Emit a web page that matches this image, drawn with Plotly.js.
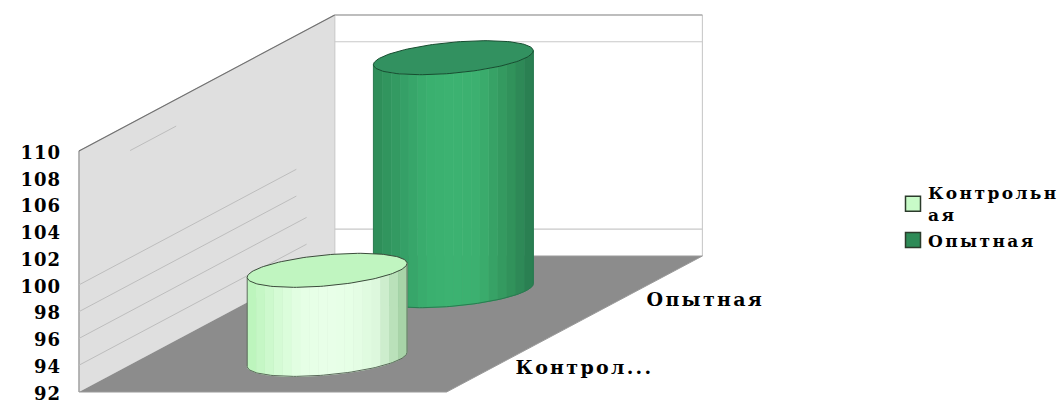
<!DOCTYPE html>
<html><head><meta charset="utf-8">
<script src="https://cdn.plot.ly/plotly-3.0.1.min.js"></script>
<style>
html,body{margin:0;padding:0;background:#fff;overflow:hidden;height:400px}
#c{width:1064px;height:420px}
.ytick{transform:translateY(1.5px)}
.ytick text{letter-spacing:1px}
.textpoint text{letter-spacing:2.3px}
.legendtext{letter-spacing:2.4px}
.legendsymbols{transform:translateX(5px)}
</style>
</head><body><div id="c"></div>
<script>
// --- chart data ---
const categories = ['Контрол...', 'Опытная'];
const seriesNames = ['Контрольн<br>ая', 'Опытная'];
const values = [98.65, 109.4];
const tickValues = [92, 94, 96, 98, 100, 102, 104, 106, 108, 110];
// --- colours ---
const capColors = ['#c0f5c0', '#329160'];
const swatchColors = ['#c8fbc8', '#2e8b57'];
const bodyStops = [
  ['#bdf5bd', '#d4fbd4', '#e6ffe6', '#e8ffe8', '#e6ffe6', '#dcf8dc', '#a8d4a8'],
  ['#2f8f5a', '#359f66', '#3ab06f', '#3cb371', '#3cb070', '#34995f', '#2a8052']
];
const FONT = 'DejaVu Serif';

// --- projection: floor position (across, depth) plus value -> plot coordinates ---
const PX_PER_UNIT = 13.39, BASE = 92, TOP = 110;
const FRONT_X = 79, FLOOR_W = 368, DEPTH_X = 256, DEPTH_Y = 136;
const px = (u, d) => FRONT_X + FLOOR_W * u + DEPTH_X * d;
const py = (v, d) => v + d * DEPTH_Y / PX_PER_UNIT;
const depths = [0.24, 0.745];
const across = [0.508, 0.5];
const RX = 80, TILT = 7, RY = 15.5;

const traces = [];
const poly = (xs, ys, fill, line, width) => traces.push({
  x: xs, y: ys, mode: 'lines', fill: 'toself', fillcolor: fill,
  line: {color: line || fill, width: width === undefined ? 1 : width},
  showlegend: false, hoverinfo: 'skip'
});
const seg = (xs, ys, color, width) => traces.push({
  x: xs, y: ys, mode: 'lines', line: {color, width: width || 1},
  showlegend: false, hoverinfo: 'skip'
});
const wall = (d, v) => [px(0, d), py(v, d)];
const pts = a => [a.map(p => p[0]), a.map(p => p[1])];

// back wall
poly(...pts([wall(1, BASE), wall(1, TOP), [px(1, 1), py(TOP, 1)], [px(1, 1), py(BASE, 1)]]), '#ffffff', '#c4c4c4', 1);
seg([px(0, 1), px(1, 1)], [py(TOP, 1), py(TOP, 1)], '#9a9a9a', 1.2);
// left wall
poly(...pts([wall(0, BASE), wall(0, TOP), wall(1, TOP), wall(1, BASE)]), '#dfdfdf', '#cfcfcf', 1);
seg([px(0, 0), px(0, 0)], [py(BASE, 0), py(TOP, 0)], '#8a8a8a', 1);
seg([px(0, 0), px(0, 1)], [py(TOP, 0), py(TOP, 1)], '#707070', 1.2);
// floor
poly(...pts([[px(0, 0), py(BASE, 0)], [px(1, 0), py(BASE, 0)], [px(1, 1), py(BASE, 1)], [px(0, 1), py(BASE, 1)]]), '#8c8c8c', '#9a9a9a', 1);
// gridlines as they survive in the picture
[94, 108].forEach(v => seg([px(0, 1), px(1, 1)], [py(v, 1), py(v, 1)], '#c8c8c8', 1.2));
[[100, 0, 0.85], [98, 0, 0.85], [96, 0, 0.89], [94, 0, 0.89], [108, 0.2, 0.38]].forEach(([v, a, b]) =>
  seg([px(0, a), px(0, b)], [py(v, a), py(v, b)], '#bdbdbd', 1));

function mix(c1, c2, f) {
  const h = c => [1, 3, 5].map(i => parseInt(c.substr(i, 2), 16));
  const a = h(c1), b = h(c2);
  return 'rgb(' + a.map((q, i) => Math.round(q + (b[i] - q) * f)).join(',') + ')';
}
function cylinder(i) {
  const d = depths[i], cx = px(across[i], d), y0 = py(BASE, d), y1 = py(values[i], d);
  const ex = t => cx + RX * Math.cos(t);
  const ey = (t, v) => v - (-TILT * Math.cos(t) + RY * Math.sin(t)) / PX_PER_UNIT;
  const N = 18, stops = bodyStops[i];
  const tAt = f => Math.acos(1 - 2 * f); // f: 0 left edge -> 1 right edge
  const colorAt = f => {
    const s = f * (stops.length - 1), k = Math.min(Math.floor(s), stops.length - 2);
    return mix(stops[k], stops[k + 1], s - k);
  };
  for (let n = 0; n < N; n++) {
    const xs = [], ys = [];
    const ta = Math.PI - tAt(n / N), tb = Math.PI - tAt((n + 1) / N);
    const arc = [];
    for (let k = 0; k <= 4; k++) arc.push(ta + (tb - ta) * k / 4);
    arc.forEach(t => { xs.push(ex(t)); ys.push(ey(t, y0)); });
    arc.slice().reverse().forEach(t => { xs.push(ex(t)); ys.push(ey(t, y1)); });
    poly(xs, ys, colorAt(n / (N - 1)), null, 1);
  }
  // outline of the lower rim and the two sides
  const rim = [[], []], cap = [[], []];
  for (let k = 0; k <= 72; k++) {
    const t = Math.PI * k / 72;
    rim[0].push(ex(t)); rim[1].push(ey(t, y0));
  }
  const edge = i === 0 ? '#5a6a5a' : '#2a7a50';
  seg(rim[0], rim[1], edge, 1);
  seg([ex(Math.PI), ex(Math.PI)], [ey(Math.PI, y0), ey(Math.PI, y1)], edge, 1);
  seg([ex(0), ex(0)], [ey(0, y0), ey(0, y1)], edge, 1);
  for (let k = 0; k <= 144; k++) {
    const t = 2 * Math.PI * k / 144;
    cap[0].push(ex(t)); cap[1].push(ey(t, y1));
  }
  poly(cap[0], cap[1], capColors[i], i === 0 ? '#3c4c3c' : '#174d30', 1);
}
cylinder(1);
cylinder(0);

// category labels on the floor edge
traces.push({
  x: [585, 706], y: [py(BASE, depths[0]) - 0.75, py(BASE, depths[1]) - 0.8],
  mode: 'text', text: categories, textposition: 'middle center',
  textfont: {family: FONT, size: 19, color: '#000', weight: 700},
  showlegend: false, hoverinfo: 'skip'
});
// legend entries
seriesNames.forEach((name, i) => traces.push({
  x: [null], y: [null], name, mode: 'markers',
  marker: {symbol: 'square', size: 15, color: swatchColors[i], line: {color: '#2b3b2b', width: 1.5}},
  hoverinfo: 'skip'
}));

Plotly.newPlot('c', traces, {
  width: 1064, height: 420,
  margin: {l: 66, r: 0, t: 0, b: 20, pad: 0},
  paper_bgcolor: '#fff', plot_bgcolor: '#fff',
  xaxis: {visible: false, range: [66, 1064], fixedrange: true},
  yaxis: {
    range: [BASE - 8 / PX_PER_UNIT, BASE + 392 / PX_PER_UNIT], fixedrange: true,
    tickmode: 'array', tickvals: tickValues, ticktext: tickValues.map(String),
    showgrid: false, zeroline: false, showline: false, ticks: '', ticklabelstandoff: 4,
    tickfont: {family: FONT, size: 18, color: '#000', weight: 700}
  },
  legend: {
    x: 0.8246, y: 0.562, xanchor: 'left', yanchor: 'top', bgcolor: 'rgba(0,0,0,0)',
    itemwidth: 30, tracegroupgap: 0, traceorder: 'normal',
    font: {family: FONT, size: 17, color: '#000', weight: 700}
  },
  showlegend: true
}, {staticPlot: true, displayModeBar: false});
</script></body></html>
